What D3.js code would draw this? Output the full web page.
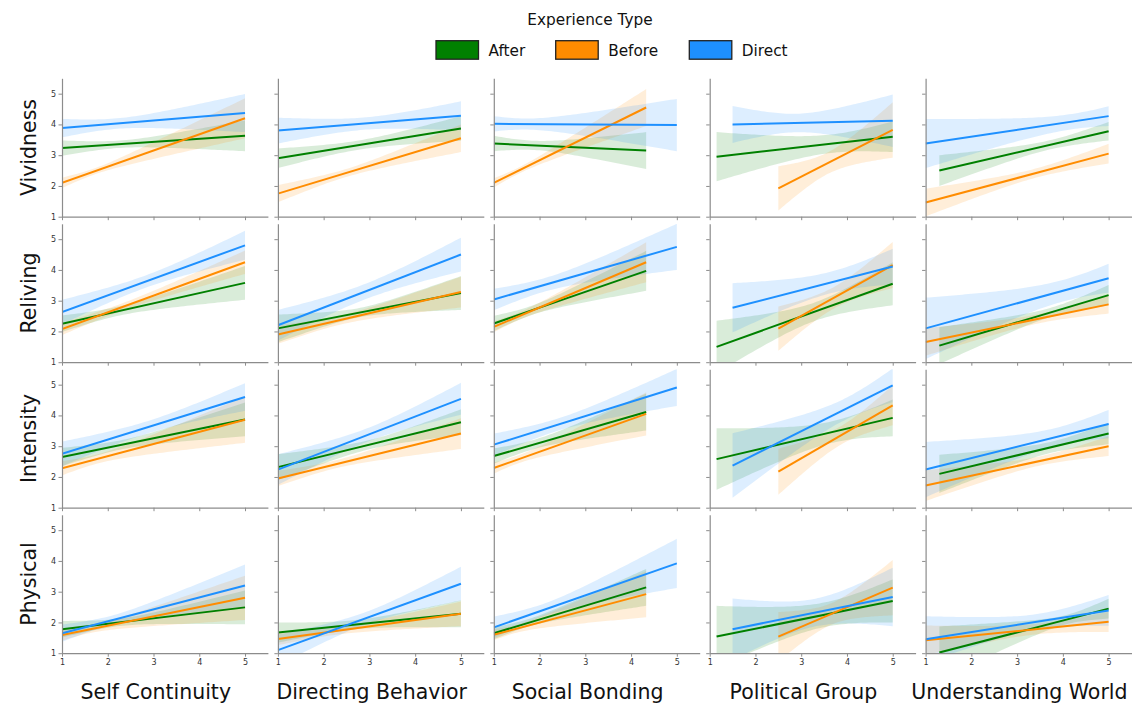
<!DOCTYPE html>
<html>
<head>
<meta charset="utf-8">
<script src="https://cdn.jsdelivr.net/npm/d3@7"></script>
<style>
  html, body { margin: 0; padding: 0; background: #fff; }
  svg { display: block; font-family: "DejaVu Sans", sans-serif; }
</style>
</head>
<body>
<svg id="chart" width="1138" height="705"></svg>
<script>
// ---------------- data ----------------
const rowLabels = ["Vividness", "Reliving", "Intensity", "Physical"];
const colLabels = ["Self Continuity", "Directing Behavior", "Social Bonding", "Political Group", "Understanding World"];
const seriesNames = ["After", "Before", "Direct"];
const yTicks = [1, 2, 3, 4, 5];
const xTicks = [1, 2, 3, 4, 5];

// x range of data per column
const afterX  = [[1, 5], [1, 5], [1, 4.33], [1.15, 5], [1.3, 5]];
const beforeX = [[1, 5], [1, 5], [1, 4.33], [2.5, 5],  [1, 5]];
const directX = [[1, 5], [1, 5], [1, 5],    [1.5, 5],  [1, 5]];

// fitted value at start and end of x range [row][col]
const afterFit = [
  [[3.23, 3.63], [2.9, 3.87], [3.38, 3.15], [2.95, 3.6], [2.5, 3.78]],
  [[2.25, 3.58], [2.1, 3.25], [2.26, 3.97], [1.5, 3.55], [1.54, 3.18]],
  [[2.65, 3.87], [2.32, 3.78], [2.68, 4.11], [2.58, 3.92], [2.1, 3.41]],
  [[1.78, 2.49], [1.67, 2.28], [1.65, 3.14], [1.54, 2.7], [1.02, 2.45]]
];
const beforeFit = [
  [[2.1, 4.2], [1.75, 3.55], [2.1, 4.55], [1.92, 3.82], [1.46, 3.05]],
  [[2.08, 4.25], [1.9, 3.28], [2.15, 4.25], [2.09, 4.16], [1.66, 2.88]],
  [[2.28, 3.86], [1.95, 3.41], [2.29, 4.05], [2.17, 4.33], [1.72, 3.0]],
  [[1.59, 2.8], [1.46, 2.28], [1.6, 2.92], [1.54, 3.13], [1.42, 2.02]]
];
const directFit = [
  [[3.88, 4.37], [3.8, 4.28], [4.02, 3.98], [4.0, 4.12], [3.38, 4.27]],
  [[2.63, 4.8], [2.2, 4.5], [3.04, 4.75], [2.77, 4.11], [2.1, 3.73]],
  [[2.75, 4.6], [2.24, 4.54], [3.05, 4.91], [2.37, 4.98], [2.24, 3.72]],
  [[1.65, 3.2], [1.1, 3.26], [1.84, 3.92], [1.78, 2.83], [1.45, 2.39]]
];

// confidence band half-width [at start, minimum, at end] [row][col]
const afterBand = [
  [[0.25, 0.12, 0.5], [0.32, 0.15, 0.4], [0.25, 0.15, 0.6], [0.8, 0.3, 0.5], [0.5, 0.15, 0.3]],
  [[0.27, 0.15, 0.55], [0.45, 0.15, 0.55], [0.25, 0.15, 0.65], [0.85, 0.3, 0.7], [0.6, 0.15, 0.33]],
  [[0.3, 0.15, 0.55], [0.42, 0.15, 0.42], [0.25, 0.15, 0.6], [1.0, 0.35, 0.6], [0.62, 0.18, 0.35]],
  [[0.27, 0.12, 0.55], [0.33, 0.15, 0.44], [0.2, 0.12, 0.6], [1.0, 0.4, 0.7], [0.85, 0.15, 0.32]]
];
const beforeBand = [
  [[0.17, 0.1, 0.65], [0.28, 0.13, 0.45], [0.15, 0.1, 0.6], [0.72, 0.35, 0.9], [0.45, 0.15, 0.32]],
  [[0.2, 0.12, 0.38], [0.3, 0.15, 0.5], [0.18, 0.12, 0.65], [0.72, 0.35, 0.75], [0.45, 0.15, 0.3]],
  [[0.23, 0.15, 0.75], [0.25, 0.13, 0.5], [0.18, 0.13, 0.7], [0.75, 0.3, 0.65], [0.5, 0.15, 0.32]],
  [[0.18, 0.12, 0.72], [0.2, 0.12, 0.4], [0.18, 0.13, 0.75], [0.8, 0.35, 0.9], [0.48, 0.17, 0.33]]
];
const directBand = [
  [[0.3, 0.17, 0.62], [0.42, 0.2, 0.47], [0.25, 0.18, 0.85], [0.6, 0.3, 0.85], [0.8, 0.25, 0.32]],
  [[0.4, 0.2, 0.47], [0.5, 0.25, 0.55], [0.35, 0.22, 0.75], [0.8, 0.35, 0.58], [1.0, 0.35, 0.47]],
  [[0.4, 0.2, 0.45], [0.5, 0.22, 0.52], [0.36, 0.2, 0.6], [1.05, 0.35, 0.55], [0.9, 0.3, 0.46]],
  [[0.28, 0.15, 0.68], [0.5, 0.2, 0.55], [0.35, 0.2, 0.8], [1.0, 0.45, 0.95], [0.75, 0.25, 0.5]]
];

// ---------------- style / layout ----------------
const seriesColors = ["#008000", "#ff8c00", "#1e90ff"];
const xRanges = [afterX, beforeX, directX];
const fits = [afterFit, beforeFit, directFit];
const bands = [afterBand, beforeBand, directBand];

const panelLeft0 = 62, colStep = 215.9, panelW = 205.9;
const panelTop0 = 78.3, rowStep = 145.5, panelH = 138.4;
const spineColor = "#8c8c8c";

const svg = d3.select("#chart");
svg.append("rect").attr("width", 1138).attr("height", 705).attr("fill", "#fff");

const defs = svg.append("defs");

const x = d3.scaleLinear().domain([1, 5.5]).range([0, panelW]);
const y = d3.scaleLinear().domain([1, 5.5]).range([panelH, 0]);

function halfWidthFn(x0, x1, w) {
  const [w0, wm, w1] = w;
  const a = Math.sqrt(Math.max(w0 * w0 - wm * wm, 0));
  const b = Math.sqrt(Math.max(w1 * w1 - wm * wm, 0));
  if (a + b === 0) return () => wm;
  const xc = x0 + (x1 - x0) * a / (a + b);
  const k = (a + b) / (x1 - x0);
  return xv => Math.sqrt(wm * wm + k * k * (xv - xc) * (xv - xc));
}

for (let r = 0; r < rowLabels.length; r++) {
  for (let c = 0; c < colLabels.length; c++) {
    const g = svg.append("g")
      .attr("transform", `translate(${panelLeft0 + c * colStep},${panelTop0 + r * rowStep})`);
    const clipId = `clip-${r}-${c}`;
    defs.append("clipPath").attr("id", clipId)
      .append("rect").attr("x", 0).attr("y", 0).attr("width", panelW).attr("height", panelH);

    const plot = g.append("g").attr("clip-path", `url(#${clipId})`);

    // bands first
    seriesNames.forEach((s, si) => {
      const [x0, x1] = xRanges[si][c];
      const [y0, y1] = fits[si][r][c];
      const hw = halfWidthFn(x0, x1, bands[si][r][c]);
      const fit = xv => y0 + (y1 - y0) * (xv - x0) / (x1 - x0);
      const n = 60;
      const pts = d3.range(n + 1).map(i => x0 + (x1 - x0) * i / n);
      const area = d3.area()
        .x(d => x(d))
        .y0(d => y(fit(d) - hw(d)))
        .y1(d => y(fit(d) + hw(d)));
      plot.append("path").datum(pts)
        .attr("d", area)
        .attr("fill", seriesColors[si])
        .attr("fill-opacity", 0.15)
        .attr("stroke", "none");
    });
    // lines on top
    seriesNames.forEach((s, si) => {
      const [x0, x1] = xRanges[si][c];
      const [y0, y1] = fits[si][r][c];
      plot.append("path").datum([[x0, y0], [x1, y1]])
        .attr("d", d3.line().x(d => x(d[0])).y(d => y(d[1])))
        .attr("stroke", seriesColors[si])
        .attr("stroke-width", 2)
        .attr("fill", "none");
    });

    // axes
    const yAxis = d3.axisLeft(y).tickValues(yTicks).tickSize(3.5).tickSizeOuter(0).tickPadding(2.5)
      .tickFormat(c === 0 ? d3.format("d") : () => "");
    const xAxis = d3.axisBottom(x).tickValues(xTicks).tickSize(3.5).tickSizeOuter(0).tickPadding(2.5)
      .tickFormat(r === rowLabels.length - 1 ? d3.format("d") : () => "");

    const ya = g.append("g").call(yAxis);
    const xa = g.append("g").attr("transform", `translate(0,${panelH})`).call(xAxis);
    [ya, xa].forEach(a => {
      a.select(".domain").attr("stroke", spineColor).attr("stroke-width", 1.2);
      a.selectAll(".tick line").attr("stroke", spineColor).attr("stroke-width", 1);
      a.selectAll(".tick text").attr("fill", "#333").style("font-size", "8px")
        .style("font-family", "DejaVu Sans");
    });

    if (c === 0) {
      svg.append("text")
        .attr("transform", `translate(36,${panelTop0 + r * rowStep + panelH / 2}) rotate(-90)`)
        .attr("text-anchor", "middle")
        .style("font-size", "20.5px")
        .attr("fill", "#111")
        .text(rowLabels[r]);
    }
    if (r === rowLabels.length - 1) {
      svg.append("text")
        .attr("x", panelLeft0 + c * colStep + x(3.05))
        .attr("y", 699)
        .attr("text-anchor", "middle")
        .style("font-size", "20.5px")
        .attr("fill", "#111")
        .text(colLabels[c]);
    }
  }
}

// ---------------- legend ----------------
svg.append("text")
  .attr("x", 590).attr("y", 24.5)
  .attr("text-anchor", "middle")
  .style("font-size", "15.3px")
  .attr("fill", "#111")
  .text("Experience Type");

const legendPatchX = [436, 555.7, 689.3];
seriesNames.forEach((s, si) => {
  const lg = svg.append("g").attr("transform", `translate(${legendPatchX[si]},40.7)`);
  lg.append("rect").attr("width", 42.5).attr("height", 18.5)
    .attr("fill", seriesColors[si]).attr("stroke", "#222").attr("stroke-width", 1.3);
  lg.append("text").attr("x", 52.5).attr("y", 15.7)
    .style("font-size", "15.3px").attr("fill", "#111").text(s);
});
</script>
</body>
</html>
